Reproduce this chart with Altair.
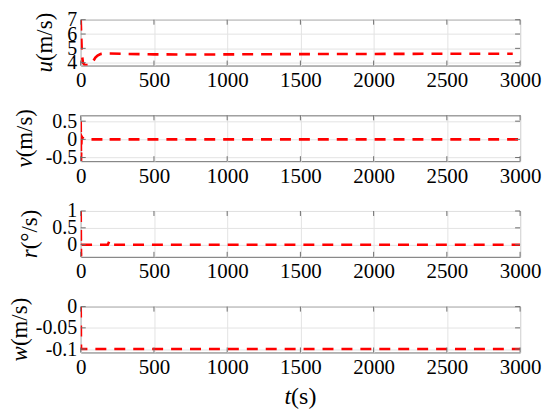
import altair as alt
import pandas as pd

# u (m/s)
t_u = [0, 3, 8, 15, 25, 40, 55, 70, 85, 100, 115, 135, 160, 200, 300, 500, 800, 1200, 1600, 2000, 2400, 2800, 2950]
u_v = [7.0, 6.0, 4.6, 4.0, 3.86, 3.83, 3.84, 3.9, 4.1, 4.35, 4.5, 4.6, 4.64, 4.64, 4.61, 4.58, 4.57, 4.59, 4.6, 4.61, 4.62, 4.62, 4.62]

# v (m/s)
t_v = [0, 2, 4, 6, 10, 20, 40, 80, 150, 185, 195, 210, 300, 600, 900, 1200, 1600, 2000, 2400, 2800, 3000]
v_v = [0.5, -0.6, -0.2, 0.08, 0.05, 0.02, 0.0, 0.0, 0.0, 0.04, 0.0, 0.0, 0.0, 0.0, 0.0, 0.0, 0.0, 0.0, 0.0, 0.0, 0.0]

# r (deg/s)
t_r = [0, 2, 4, 6, 10, 40, 150, 185, 196, 207, 220, 500, 1000, 1500, 2000, 2500, 3000]
r_v = [1.0, -0.35, -0.1, 0.0, 0.0, 0.0, 0.0, 0.0, 0.11, 0.0, 0.0, 0.0, 0.0, 0.0, 0.0, 0.0, 0.0]

# w (m/s)
t_w = [0, 2, 4, 10, 100, 500, 1000, 1500, 2000, 2500, 3000]
w_v = [0.0, -0.1, -0.1, -0.1, -0.1, -0.1, -0.1, -0.1, -0.1, -0.1, -0.1]

x_ticks = [0, 500, 1000, 1500, 2000, 2500, 3000]

# axis titles: italic variable + upright unit
y_var = ["u", "v", "r", "w"]
y_unit = ["(m/s)", "(m/s)", "(°/s)", "(m/s)"]
x_var = "t"
x_unit = "(s)"

FONT = "Liberation Serif, Times New Roman, serif"
W, H = 441, 46
TFS = 23  # y-title font size
XFS = 24  # x-title font size
FRAME = "#6e6e6e"
TICK = 5

# approximate Times advance widths (em)
VAR_EM = {"u": 0.5, "v": 0.444, "r": 0.389, "w": 0.667, "t": 0.278}
UNIT_EM = {"(m/s)": 2.111, "(°/s)": 1.733, "(s)": 1.055}

one = pd.DataFrame({"k": [0]})


def ytitle(var, unit, xoff):
    total = (VAR_EM[var] + UNIT_EM[unit]) * TFS
    y0 = H / 2 + total / 2 - VAR_EM[var] * TFS
    base = alt.Chart(one)
    a = base.mark_text(font=FONT, fontSize=TFS, fontStyle="italic", angle=270,
                       align="right", baseline="alphabetic", color="black").encode(
        x=alt.value(xoff), y=alt.value(y0), text=alt.value(var))
    b = base.mark_text(font=FONT, fontSize=TFS, angle=270, align="left",
                       baseline="alphabetic", color="black").encode(
        x=alt.value(xoff), y=alt.value(y0), text=alt.value(unit))
    return [a, b]


def xtitle_layers():
    total = (VAR_EM[x_var] + UNIT_EM[x_unit]) * XFS
    x0 = W / 2 - total / 2 + VAR_EM[x_var] * XFS
    base = alt.Chart(one)
    a = base.mark_text(font=FONT, fontSize=XFS, fontStyle="italic", align="right",
                       baseline="alphabetic", color="black").encode(
        x=alt.value(x0), y=alt.value(H + 52), text=alt.value(x_var))
    b = base.mark_text(font=FONT, fontSize=XFS, align="left",
                       baseline="alphabetic", color="black").encode(
        x=alt.value(x0), y=alt.value(H + 52), text=alt.value(x_unit))
    return [a, b]


def panel(t, vals, idx, domain, ticks, xoff, last=False):
    df = pd.DataFrame({"t": t, "val": vals})
    xscale = alt.Scale(domain=[0, 3000], nice=False)
    yscale = alt.Scale(domain=domain, nice=False, zero=False)
    xaxis = alt.Axis(values=x_ticks, labelFlush=False, labelOverlap=False,
                     title=None, format="d", labelFont=FONT, labelFontSize=21,
                     labelColor="black")
    yaxis = alt.Axis(values=ticks, title=None, labelFlush=False,
                     labelOverlap=False, format="~g", labelFont=FONT,
                     labelFontSize=20, labelColor="black",
                     labelExpr="replace(datum.label, '−', '-')")
    line = alt.Chart(df).mark_line(
        color="#ff0000", strokeDash=[11, 8], strokeWidth=2.6, clip=True
    ).encode(
        x=alt.X("t:Q", scale=xscale, axis=xaxis),
        y=alt.Y("val:Q", scale=yscale, axis=yaxis),
    )
    # inward ticks on all four sides (box style)
    ydf = pd.DataFrame({"val": ticks})
    xdf = pd.DataFrame({"t": x_ticks})
    yt_l = alt.Chart(ydf).mark_rule(color=FRAME, strokeWidth=1).encode(
        y=alt.Y("val:Q", scale=yscale, axis=yaxis), x=alt.value(0), x2=alt.value(TICK))
    yt_r = alt.Chart(ydf).mark_rule(color=FRAME, strokeWidth=1).encode(
        y=alt.Y("val:Q", scale=yscale, axis=yaxis), x=alt.value(W - TICK), x2=alt.value(W))
    xt_t = alt.Chart(xdf).mark_rule(color=FRAME, strokeWidth=1).encode(
        x=alt.X("t:Q", scale=xscale, axis=xaxis), y=alt.value(0), y2=alt.value(TICK))
    xt_b = alt.Chart(xdf).mark_rule(color=FRAME, strokeWidth=1).encode(
        x=alt.X("t:Q", scale=xscale, axis=xaxis), y=alt.value(H - TICK), y2=alt.value(H))
    layers = [line, yt_l, yt_r, xt_t, xt_b] + ytitle(y_var[idx], y_unit[idx], xoff)
    if last:
        layers += xtitle_layers()
    return alt.layer(*layers).properties(width=W, height=H)


p1 = panel(t_u, u_v, 0, [3.8, 7.0], [4, 5, 6, 7], -29)
p2 = panel(t_v, v_v, 1, [-0.6, 0.66], [-0.5, 0, 0.5], -49)
p3 = panel(t_r, r_v, 2, [-0.36, 1.0], [0, 0.5, 1], -44)
p4 = panel(t_w, w_v, 3, [-0.108, 0.0], [-0.1, -0.05, 0], -54, last=True)

chart = alt.vconcat(p1, p2, p3, p4, spacing=50, bounds="flush").properties(
    padding={"left": 0, "top": 0, "right": 0, "bottom": 0}
).configure_view(
    stroke=FRAME, strokeWidth=1
).configure_axis(
    labelFont=FONT, labelColor="#000000",
    gridColor="#e3e3e3", gridWidth=1, domain=False, ticks=False,
    labelPadding=4,
)

chart.save("out.html", embed_options={"renderer": "svg", "actions": False})
